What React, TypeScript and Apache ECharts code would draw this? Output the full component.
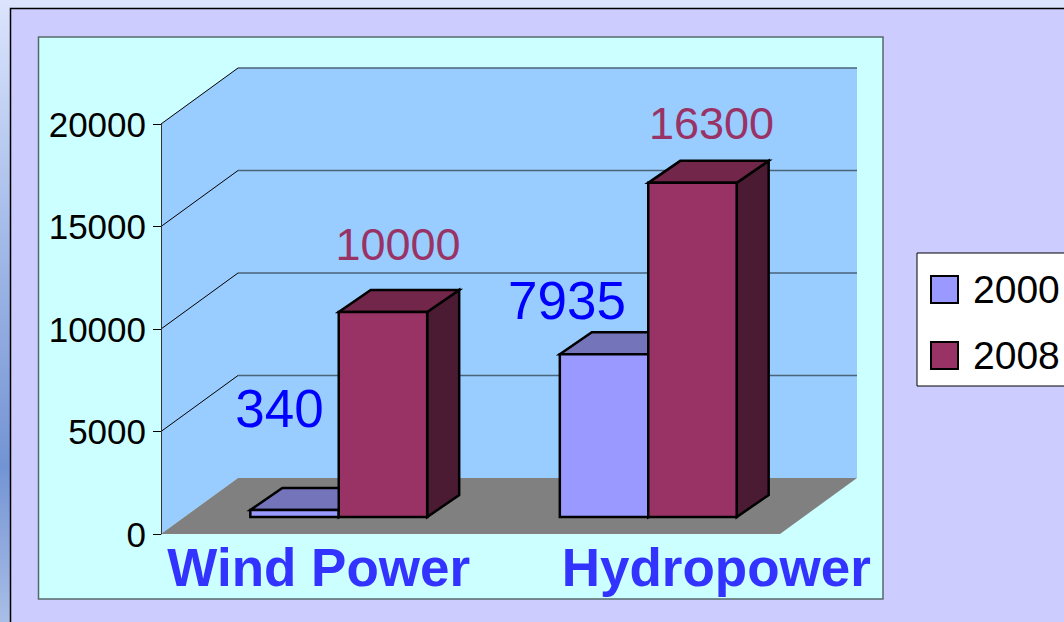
import React, { useEffect, useRef } from 'react';
import * as echarts from 'echarts';

// ---- data ----
const categories = ['Wind Power', 'Hydropower'];
const seriesNames = ['2000', '2008'];
const values2000 = [340, 7935];
const values2008 = [10000, 16300];
const yTicks = [0, 5000, 10000, 15000, 20000];

// ---- 3D look (pixels) ----
const DEPTH = [77, -56]; // full depth of the box (back wall offset)
const FRONT = [23, -17]; // offset of bar front plane from floor front edge
const BAR_DEPTH = [32, -22]; // depth of each bar
// label middle point relative to the centre of the bar's top back edge
const labelShift2000 = [[-31, -80], [-53, -32]];
const labelShift2008 = [[-1, -46], [3, -37]];

const FONT = '"Liberation Sans", Arial, Helvetica, sans-serif';

const colors2000 = { front: '#9999FF', top: '#7474BB', side: '#4D4D80' };
const colors2008 = { front: '#993366', top: '#71264A', side: '#4B1A33' };

function makeBarRender(idx: number, col: any, fontSize: number, labelColor: string, shifts: number[][]) {
  return (params: any, api: any) => {
    const cat = api.value(0);
    const v = api.value(1);
    const top = api.coord([cat, v]);
    const base = api.coord([cat, 0]);
    const catW = api.size([1, 0])[0];
    const bw = catW / 3.5;
    const xl = top[0] - bw + idx * bw + FRONT[0];
    const xr = xl + bw;
    const yt = top[1] + FRONT[1];
    const yb = base[1] + FRONT[1];
    const bx = BAR_DEPTH[0];
    const by = BAR_DEPTH[1];
    const stroke = { stroke: '#000', lineWidth: 2.5, lineJoin: 'miter' };
    const sh = shifts[params.dataIndex] || [0, 0];
    return {
      type: 'group',
      children: [
        {
          type: 'polygon',
          shape: { points: [[xr, yt], [xr + bx, yt + by], [xr + bx, yb + by], [xr, yb]] },
          style: { fill: col.side, ...stroke },
        },
        {
          type: 'polygon',
          shape: { points: [[xl, yt], [xr, yt], [xr + bx, yt + by], [xl + bx, yt + by]] },
          style: { fill: col.top, ...stroke },
        },
        {
          type: 'rect',
          shape: { x: xl, y: yt, width: bw, height: yb - yt },
          style: { fill: col.front, ...stroke },
        },
        {
          type: 'text',
          style: {
            text: String(v),
            x: (xl + xr) / 2 + bx / 2 + sh[0],
            y: yt + by + sh[1],
            fill: labelColor,
            fontSize,
            fontFamily: FONT,
            align: 'center',
            verticalAlign: 'middle',
            textAlign: 'center',
            textVerticalAlign: 'middle',
          },
        },
      ],
    };
  };
}

function renderWalls(params: any, api: any) {
  const cs = params.coordSys;
  const x0 = cs.x;
  const x1 = cs.x + cs.width;
  const yb = api.coord([0, yTicks[0]])[1];
  const yt = api.coord([0, yTicks[yTicks.length - 1]])[1];
  const dx = DEPTH[0];
  const dy = DEPTH[1];
  const children: any[] = [
    {
      type: 'polygon',
      shape: { points: [[x0, yt], [x0 + dx, yt + dy], [x0 + dx, yb + dy], [x0, yb]] },
      style: { fill: '#99CCFF' },
    },
    {
      type: 'rect',
      shape: { x: x0 + dx, y: yt + dy, width: x1 - x0, height: yb - yt },
      style: { fill: '#99CCFF' },
    },
    {
      type: 'polygon',
      shape: { points: [[x0, yb], [x1, yb], [x1 + dx, yb + dy], [x0 + dx, yb + dy]] },
      style: { fill: '#808080' },
    },
  ];
  yTicks.slice(1).forEach((t) => {
    const y = api.coord([0, t])[1];
    children.push({
      type: 'line',
      shape: { x1: x0, y1: y, x2: x0 + dx, y2: y + dy },
      style: { stroke: '#000', lineWidth: 1 },
    });
    children.push({
      type: 'line',
      shape: { x1: x0 + dx, y1: y + dy, x2: x1 + dx, y2: y + dy },
      style: { stroke: '#4A6478', lineWidth: 1.5 },
    });
  });
  return { type: 'group', children };
}

export default function App() {
  const ref = useRef<HTMLDivElement>(null);
  useEffect(() => {
    if (!ref.current) return;
    const chart = echarts.init(ref.current, null, { renderer: 'svg' });
    const option: any = {
      animation: false,
      backgroundColor: '#DCE4FD',
      graphic: [
        {
          type: 'rect',
          z: -10,
          shape: { x: 0, y: 0, width: 10, height: 622 },
          style: {
            fill: new echarts.graphic.LinearGradient(0, 0, 0, 1, [
              { offset: 0, color: '#DCE4FD' },
              { offset: 0.35, color: '#A8BEEA' },
              { offset: 0.75, color: '#7394D4' },
              { offset: 1, color: '#A9BEE6' },
            ]),
          },
        },
        {
          type: 'rect',
          z: -10,
          shape: { x: 10.5, y: 8.5, width: 1100, height: 700 },
          style: { fill: '#CCCCFF', stroke: '#000', lineWidth: 1.5 },
        },
        {
          type: 'rect',
          z: -10,
          shape: { x: 38.5, y: 37, width: 844.5, height: 562 },
          style: { fill: '#CCFFFF', stroke: '#566A6A', lineWidth: 1.5 },
        },
      ],
      grid: { left: 161, right: 284, top: 124, bottom: 88, containLabel: false },
      legend: {
        data: seriesNames,
        orient: 'vertical',
        left: 917,
        top: 253,
        padding: [17, 30, 11, 13],
        itemGap: 27,
        itemWidth: 27,
        itemHeight: 27,
        icon: 'rect',
        backgroundColor: '#FFFFFF',
        borderColor: '#000',
        borderWidth: 1,
        borderRadius: 0,
        itemStyle: { borderColor: '#000', borderWidth: 2 },
        textStyle: {
          fontSize: 39,
          lineHeight: 37,
          color: '#000',
          fontFamily: FONT,
          padding: [0, 0, 0, 10],
        },
        z: 6,
      },
      xAxis: {
        type: 'category',
        data: categories,
        z: 10,
        axisLine: { show: false },
        axisTick: { show: false },
        splitLine: { show: false },
        axisLabel: {
          interval: 0,
          margin: 7,
          formatter: (val: string, i: number) => (i === 0 ? `{a|${val}}` : `{b|${val}}`),
          rich: {
            a: {
              fontSize: 53,
              lineHeight: 53,
              fontWeight: 'bold',
              color: '#3333FF',
              fontFamily: FONT,
              padding: [0, 0, 0, 6],
            },
            b: {
              fontSize: 53,
              lineHeight: 53,
              fontWeight: 'bold',
              color: '#3333FF',
              fontFamily: FONT,
              padding: [0, 0, 0, 182],
            },
          },
        },
      },
      yAxis: {
        type: 'value',
        min: 0,
        max: 20000,
        interval: 5000,
        z: 10,
        axisLine: { show: true, lineStyle: { color: '#333', width: 1 } },
        axisTick: { show: true, length: 8, lineStyle: { color: '#000', width: 1 } },
        splitLine: { show: false },
        axisLabel: {
          fontSize: 35,
          color: '#000',
          fontFamily: FONT,
          margin: 15,
          formatter: (v: number) => String(v),
        },
      },
      series: [
        {
          type: 'custom',
          z: 1,
          silent: true,
          renderItem: renderWalls,
          data: [[0, 0]],
          encode: { x: 0, y: 1 },
        },
        {
          type: 'custom',
          name: seriesNames[0],
          z: 2,
          itemStyle: { color: colors2000.front },
          renderItem: makeBarRender(0, colors2000, 53, '#0000FF', labelShift2000),
          data: categories.map((_, i) => [i, values2000[i]]),
          encode: { x: 0, y: 1 },
        },
        {
          type: 'custom',
          name: seriesNames[1],
          z: 2,
          itemStyle: { color: colors2008.front },
          renderItem: makeBarRender(1, colors2008, 45, '#993366', labelShift2008),
          data: categories.map((_, i) => [i, values2008[i]]),
          encode: { x: 0, y: 1 },
        },
      ],
    };
    chart.setOption(option);
    return () => chart.dispose();
  }, []);
  return (
    <div
      ref={ref}
      style={{ position: 'absolute', left: 0, top: 0, width: 1064, height: 622, overflow: 'hidden' }}
    />
  );
}
